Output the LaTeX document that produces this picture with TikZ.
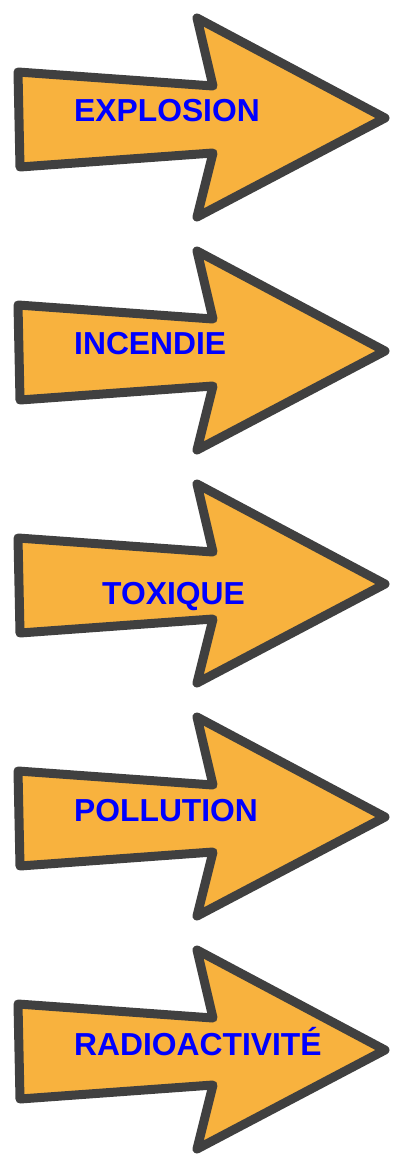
\documentclass[tikz,border=0pt]{standalone}
\usepackage{fontspec}
\setmainfont{Liberation Sans}
\usepackage{tikz}
\definecolor{arroworange}{HTML}{F8B23E}
\definecolor{arrowgray}{HTML}{404040}
\definecolor{labelblue}{HTML}{0000FF}
\begin{document}
\begin{tikzpicture}[
  x=1pt, y=-1pt,
  hazard/.style={draw=arrowgray, fill=arroworange, line width=9pt, line join=round},
  lbl/.style={anchor=base west, inner sep=0pt, text=labelblue,
              font=\fontsize{31.8}{36}\selectfont\bfseries},
]
\useasboundingbox (0,0) rectangle (394,1159);
% Arrows
\foreach \dy in {0,233,466,699,932}
  \draw[hazard, shift={(0,\dy)}]
    (18,72) -- (213,86) -- (197,18) -- (385,118) -- (197,217)
    -- (213,153) -- (20,167) -- cycle;
% Labels
\node[lbl] (explosion) at (74,121) {EXPLOSION};
\node[lbl] (incendie) at (74,354) {INCENDIE};
\node[lbl] (toxique) at (102,604) {TOXIQUE};
\node[lbl] (pollution) at (74,821) {POLLUTION};
\node[lbl] (radio) at (74,1055) {RADIOACTIVITÉ};
\end{tikzpicture}
\end{document}
